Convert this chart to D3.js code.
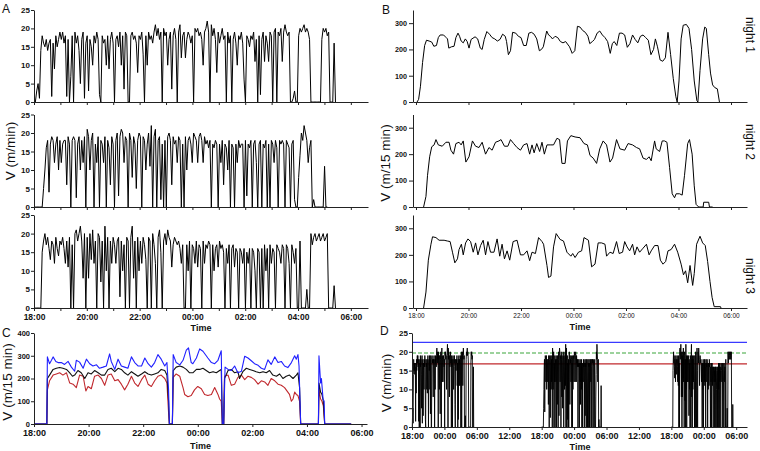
<!DOCTYPE html>
<html><head><meta charset="utf-8">
<script src="https://cdn.jsdelivr.net/npm/d3@7"></script>
<style>body{margin:0;background:#fff}svg{display:block}</style>
</head><body>
<svg id="c" width="760" height="451"></svg>
<script>
// ---------- DATA ----------
// Panel A / D : walking speed (m/min), one sample every 3.1 min from 18:00
const sampleMin = 3.1;
const night1A = [
0,0,3,5,1,14,18,16,15,17,14,16,17,1.5,16,9,18,15,17,19,
17,19,16,18,1.5,17,0,7,18,0,19,16,18,14,5,17,19,1,16,18,
3,17,15,10,18,16,19,17,2,0,18,16,17,10,18,9,17,19,16,0,
17,18,15,19,10,18,3.5,19,18,0,0,18,19,17,18,16,8,18,17,19,
13,0,18,10,19,17,18,16,19,21,18,20,17,19,0,20,18,19,10,17,
19,3.5,18,20,17,0,19,21,12,18,19,12,17,19,18,16,18,0,20,19,
20,18,19,17,10,19,20,22,19,0,21,18,20,17,8,19,16,18,20,17,
18,0,19,16,18,0,17,19,16,10,18,17,19,16,6,0,18,17,15,18,
17,19,11,17,0,18,2,17,19,11,18,16,11,19,18,0,19,20,0,19,
18,20,11,19,21,19,18,19,0,0,1,3,0,0,18,20,19,20,21,19,
20,19,17,0,0,0,0,0,0,0,0,17,20,19,20,18,19,0,0,0,
16,0];
const night2A = [
0,0,0,0,0,0,0,5,10,16,18,4,17,19,18,12,17,19,10,18,
12,17,18,18,6,19,17,0,18,19,18,2.5,17,19,10,18,12,19,0,21,
19,10,18,20,0,17,12,19,0,18,17,12,19,0,18,16,6,19,17,0,
18,20,3,19,21,20,12,19,18,0,20,18,8,19,17,5,18,20,19,0,
19,18,10,17,20,11,22,0,19,21,0,18,19,2,17,0,18,0,19,20,
18,6,19,17,18,12,19,18,0,17,0,19,10,18,19,17,12,20,19,18,
12,19,20,18,12,19,17,18,16,18,0,17,16,18,17,0,17,12,18,6,
17,16,10,18,0,17,16,0,17,12,18,16,17,17,0,18,3,17,16,18,
0,17,18,12,0,17,18,0,17,16,18,0,17,0,18,17,12,18,16,0,
18,17,18,17,0,18,17,16,0,17,18,2,0,0,8,14,20,18,22,20,
18,12,16,18,0,2,0,0,0,0,0,0,0,11,0,0];
const night3A = [
0,0,0,0,0,0,15,18,20,17,19,16,13,18,17,12,19,16,14,18,
17,19,16,12,18,11,19,0,17,0,20,21,18,20,22,18,8,20,0,19,
8,20,13,21,12,18,0,20,19,7,18,0,22,10,19,0,18,12,19,17,
12,18,19,3,18,10,17,0,19,18,0,19,22,8,18,0,19,10,18,12,
19,17,13,0,19,18,0,20,17,12,0,19,21,15,0,18,20,17,21,19,
18,11,17,19,18,17,18,16,12,17,0,0,17,10,18,0,17,16,12,18,
11,17,16,0,18,12,17,16,18,17,0,17,10,16,17,11,18,16,17,15,
0,16,12,17,0,16,17,11,16,15,0,16,15,12,16,0,15,12,16,0,
16,15,10,0,16,15,0,16,0,17,10,16,0,17,12,16,15,0,17,16,
15,12,17,16,0,17,16,12,0,17,15,12,16,0,0,18,0,0,0,0,
5,0,0,20,17,19,20,18,19,20,18,19,20,18,19,20,0,0,0,0,
6,0];

// Panel B : distance per 15 min, [hours after 18:00, m]
const night1B = [[0.04,0],[0.1,10],[0.17,60],[0.25,150],[0.33,215],[0.4,235],[0.5,232],[0.6,228],[0.68,212],[0.78,215],[0.85,245],[0.92,255],[1.05,255],[1.15,245],[1.2,240],[1.25,205],[1.35,210],[1.45,212],[1.52,245],[1.6,262],[1.66,250],[1.72,232],[1.8,225],[1.88,240],[1.95,230],[2.02,205],[2.1,238],[2.25,248],[2.35,240],[2.45,205],[2.52,200],[2.6,238],[2.7,268],[2.8,258],[2.9,245],[3.0,240],[3.1,232],[3.2,238],[3.3,258],[3.4,250],[3.45,230],[3.52,180],[3.6,195],[3.68,265],[3.8,262],[3.9,250],[4.0,245],[4.1,215],[4.2,215],[4.3,262],[4.4,265],[4.5,258],[4.6,240],[4.7,195],[4.78,200],[4.85,210],[4.98,270],[5.05,255],[5.12,250],[5.2,240],[5.3,250],[5.4,245],[5.5,230],[5.6,225],[5.7,230],[5.85,210],[5.95,185],[6.05,195],[6.15,288],[6.25,285],[6.35,272],[6.45,265],[6.55,250],[6.62,222],[6.72,230],[6.8,238],[6.9,262],[7.0,270],[7.1,255],[7.2,245],[7.3,230],[7.4,185],[7.48,222],[7.55,230],[7.65,215],[7.75,262],[7.85,262],[7.95,255],[8.05,208],[8.15,222],[8.25,255],[8.35,238],[8.45,225],[8.55,250],[8.65,255],[8.75,245],[8.85,235],[8.95,180],[9.05,200],[9.12,240],[9.2,210],[9.3,160],[9.4,155],[9.5,168],[9.6,265],[9.7,180],[9.8,90],[9.9,20],[9.95,0],[10.02,80],[10.1,240],[10.18,292],[10.3,295],[10.4,280],[10.5,200],[10.6,80],[10.7,5],[10.74,0],[10.82,120],[10.92,240],[11.0,285],[11.06,280],[11.15,180],[11.22,110],[11.3,65],[11.38,55],[11.48,50],[11.56,0]];
const night2B = [[0.29,0],[0.38,40],[0.44,120],[0.52,190],[0.6,228],[0.69,235],[0.76,255],[0.85,235],[1.0,230],[1.14,245],[1.26,245],[1.33,215],[1.43,200],[1.52,240],[1.64,245],[1.72,235],[1.8,250],[1.9,170],[2.02,190],[2.15,250],[2.27,230],[2.4,225],[2.52,245],[2.65,200],[2.78,225],[2.9,215],[3.03,245],[3.16,250],[3.24,255],[3.37,230],[3.5,230],[3.6,255],[3.72,240],[3.85,225],[3.98,215],[4.1,235],[4.23,240],[4.33,200],[4.42,235],[4.5,205],[4.6,240],[4.71,210],[4.8,245],[4.89,200],[4.99,235],[5.11,235],[5.24,235],[5.37,260],[5.47,255],[5.56,165],[5.68,165],[5.77,250],[5.9,270],[6.06,265],[6.25,262],[6.4,240],[6.53,235],[6.63,195],[6.75,185],[6.88,165],[7.0,220],[7.13,250],[7.26,235],[7.39,170],[7.49,185],[7.64,255],[7.77,220],[7.95,215],[8.08,240],[8.25,235],[8.4,225],[8.52,220],[8.65,185],[8.78,180],[8.88,190],[8.96,175],[9.09,250],[9.15,220],[9.28,210],[9.38,250],[9.47,250],[9.56,245],[9.66,150],[9.76,50],[9.85,35],[9.91,50],[10.04,50],[10.14,45],[10.23,120],[10.35,240],[10.42,255],[10.52,200],[10.6,80],[10.67,10],[10.77,0],[10.94,0],[10.96,18],[11.15,18],[11.18,0],[11.3,0]];
const night3B = [[0.29,0],[0.38,60],[0.47,180],[0.57,240],[0.63,268],[0.76,265],[0.88,255],[1.07,255],[1.2,252],[1.3,250],[1.39,210],[1.48,170],[1.58,185],[1.64,220],[1.73,240],[1.8,200],[1.89,245],[1.98,260],[2.08,250],[2.18,210],[2.27,245],[2.36,200],[2.46,235],[2.56,255],[2.65,200],[2.74,250],[2.84,210],[2.97,210],[3.09,260],[3.19,195],[3.28,240],[3.37,185],[3.47,215],[3.57,180],[3.7,250],[3.85,255],[3.98,200],[4.1,200],[4.23,215],[4.33,178],[4.42,210],[4.55,205],[4.67,265],[4.8,250],[4.86,240],[4.99,160],[5.05,115],[5.14,120],[5.24,230],[5.34,280],[5.49,258],[5.62,252],[5.75,210],[5.9,195],[5.97,205],[6.06,190],[6.19,210],[6.31,215],[6.4,265],[6.57,255],[6.69,155],[6.82,165],[6.94,245],[7.07,245],[7.2,240],[7.26,195],[7.39,210],[7.51,205],[7.64,250],[7.74,205],[7.87,210],[7.95,250],[8.04,230],[8.14,215],[8.25,240],[8.33,200],[8.42,230],[8.52,210],[8.65,225],[8.78,240],[8.88,200],[8.96,215],[9.09,235],[9.22,235],[9.31,180],[9.41,165],[9.51,175],[9.6,215],[9.72,220],[9.85,240],[9.97,210],[10.1,165],[10.19,125],[10.27,140],[10.35,95],[10.44,160],[10.54,85],[10.6,130],[10.69,240],[10.82,270],[10.92,245],[11.02,235],[11.11,175],[11.2,100],[11.28,40],[11.36,5],[11.6,5],[11.62,0]];

// Panel C : max / mean / min over nights, [hours after 18:00, m/15 min]
const cMax = [[0,0],[0.47,0],[0.49,295],[0.57,265],[0.64,280],[0.7,295],[0.8,275],[0.88,270],[1.0,270],[1.12,262],[1.25,275],[1.37,250],[1.49,232],[1.55,280],[1.67,272],[1.8,245],[1.92,285],[2.04,265],[2.16,255],[2.29,260],[2.4,245],[2.53,250],[2.65,255],[2.77,308],[2.83,275],[2.96,240],[3.08,285],[3.2,255],[3.32,250],[3.44,245],[3.57,295],[3.69,270],[3.81,255],[3.94,255],[4.06,290],[4.18,265],[4.3,250],[4.42,270],[4.54,305],[4.66,285],[4.79,255],[4.87,270],[4.93,150],[4.96,0],[5.07,0],[5.1,305],[5.21,270],[5.34,260],[5.46,280],[5.58,325],[5.66,335],[5.76,270],[5.82,265],[5.95,290],[6.07,330],[6.19,320],[6.31,300],[6.37,290],[6.5,270],[6.62,265],[6.74,280],[6.86,322],[6.9,0],[6.95,0],[7.0,250],[7.11,240],[7.23,235],[7.35,255],[7.47,225],[7.6,232],[7.72,298],[7.84,290],[7.96,278],[8.08,265],[8.21,258],[8.33,245],[8.45,240],[8.57,282],[8.69,262],[8.82,295],[8.94,270],[9.06,275],[9.18,255],[9.3,248],[9.43,270],[9.55,300],[9.61,285],[9.67,305],[9.71,255],[9.74,120],[9.77,0],[10.42,0],[10.44,300],[10.5,180],[10.53,200],[10.59,110],[10.63,100],[10.65,0],[11.62,0]];
const cMean = [[0,0],[0.47,0],[0.49,200],[0.57,215],[0.7,240],[0.82,245],[0.94,248],[1.06,245],[1.19,240],[1.31,225],[1.41,210],[1.49,215],[1.61,235],[1.73,225],[1.86,200],[1.98,225],[2.1,220],[2.22,235],[2.35,225],[2.47,215],[2.59,215],[2.71,240],[2.83,245],[2.96,230],[3.08,245],[3.2,240],[3.32,225],[3.44,215],[3.57,230],[3.69,220],[3.81,210],[3.94,220],[4.06,230],[4.18,220],[4.3,215],[4.42,220],[4.54,225],[4.66,240],[4.79,235],[4.87,215],[4.93,100],[4.96,0],[5.07,0],[5.1,235],[5.21,250],[5.34,255],[5.46,250],[5.58,240],[5.7,225],[5.82,225],[5.95,240],[6.07,240],[6.19,245],[6.31,235],[6.43,225],[6.56,230],[6.68,225],[6.8,235],[6.86,240],[6.9,0],[6.95,0],[6.98,200],[7.11,235],[7.23,240],[7.35,225],[7.47,230],[7.53,200],[7.65,230],[7.78,245],[7.9,240],[8.02,235],[8.14,230],[8.27,225],[8.39,230],[8.51,225],[8.63,235],[8.75,215],[8.88,210],[9.0,220],[9.12,200],[9.24,210],[9.36,215],[9.49,200],[9.61,215],[9.67,225],[9.73,160],[9.77,0],[10.42,0],[10.44,180],[10.5,140],[10.55,130],[10.6,100],[10.65,0],[11.62,0]];
const cMin = [[0,0],[0.47,0],[0.49,150],[0.57,190],[0.7,215],[0.82,220],[0.94,225],[1.06,215],[1.19,225],[1.31,180],[1.43,175],[1.55,160],[1.67,215],[1.8,210],[1.9,145],[1.98,165],[2.1,155],[2.22,210],[2.35,215],[2.47,200],[2.59,170],[2.71,215],[2.83,220],[2.96,190],[3.08,195],[3.2,175],[3.32,150],[3.44,175],[3.57,210],[3.69,180],[3.81,165],[3.94,195],[4.06,215],[4.18,175],[4.3,165],[4.42,190],[4.54,210],[4.66,215],[4.79,200],[4.87,180],[4.93,50],[4.96,0],[5.07,0],[5.1,205],[5.21,220],[5.34,210],[5.46,160],[5.52,130],[5.64,120],[5.76,125],[5.88,150],[6.0,165],[6.13,155],[6.25,130],[6.37,125],[6.5,130],[6.62,160],[6.74,130],[6.8,110],[6.86,100],[6.9,0],[6.95,0],[6.98,210],[7.11,215],[7.23,170],[7.35,175],[7.47,205],[7.6,215],[7.72,195],[7.84,210],[7.96,205],[8.08,195],[8.21,175],[8.33,190],[8.45,185],[8.57,170],[8.69,200],[8.82,190],[8.94,175],[9.06,170],[9.18,160],[9.3,140],[9.36,130],[9.43,100],[9.49,110],[9.55,140],[9.61,130],[9.67,125],[9.73,100],[9.77,0],[10.42,0],[10.44,150],[10.5,110],[10.55,100],[10.6,80],[10.65,0],[11.62,0]];

// Panel D reference levels (m/min)
const dLevelMax = 22.5, dLevelMid = 19.7, dLevelMin = 16.8;

// Tick labels
const timeLabels = ["18:00","20:00","22:00","00:00","02:00","04:00","06:00"];
const dayLabels = ["18:00","00:00","06:00","12:00","18:00","00:00","06:00","12:00","18:00","00:00","06:00"];
const nightNames = ["night 1","night 2","night 3"];

// ---------- DRAW ----------
const FONT = "Arial, 'Liberation Sans', Helvetica, sans-serif";
const svg = d3.select("#c");
const rows = [{top:10,bot:102},{top:114.5,bot:207},{top:215,bot:308}];
const nightsA = [night1A, night2A, night3A];
const nightsB = [night1B, night2B, night3B];

function styleAxis(g, fs, bold) {
  g.attr("font-family", FONT).attr("font-size", fs).attr("font-weight", bold ? "bold" : "normal");
  g.selectAll("path.domain").attr("stroke", "#222").attr("stroke-width", 1);
  g.selectAll(".tick line").attr("stroke", "#222").attr("stroke-width", 1);
  g.selectAll("text").attr("fill", "#111");
}
function label(x, y, txt, fs, opts={}) {
  const t = svg.append("text").attr("x", x).attr("y", y).text(txt)
    .attr("font-family", FONT).attr("font-size", fs).attr("fill", "#111")
    .attr("text-anchor", opts.anchor || "start")
    .attr("font-weight", opts.bold ? "bold" : "normal");
  if (opts.rot) t.attr("transform", `rotate(${opts.rot},${x},${y})`).attr("dy", "0.35em");
  return t;
}

// Panel A
const xA = d3.scaleLinear().domain([0, 12.65]).range([34, 368]);
rows.forEach((r, k) => {
  const y = d3.scaleLinear().domain([0, 25]).range([r.bot, r.top]);
  const line = d3.line().x((d, i) => xA(i * sampleMin / 60)).y(d => y(d));
  svg.append("path").datum(nightsA[k]).attr("d", line)
    .attr("fill", "none").attr("stroke", "#000").attr("stroke-width", 1).attr("stroke-linejoin", "round");
  const gy = svg.append("g").attr("transform", `translate(34,0)`)
    .call(d3.axisLeft(y).tickValues([0,5,10,15,20,25]).tickSize(3).tickPadding(1).tickSizeOuter(0));
  styleAxis(gy, 8, true);
  const gx = svg.append("g").attr("transform", `translate(0,${r.bot})`)
    .call(d3.axisBottom(xA).tickValues(d3.range(0, 13)).tickSize(3).tickPadding(3).tickSizeOuter(0)
      .tickFormat(h => (k === 2 && h % 2 === 0) ? timeLabels[h / 2] : ""));
  styleAxis(gx, 8.5, true);
});
label(201, 331, "Time", 9, {anchor: "middle", bold: true});
label(10, 151, "V (m/min)", 13.5, {anchor: "middle", rot: -90});
label(2, 13, "A", 12);

// Panel B
const xB = d3.scaleLinear().domain([-0.114, 12.61]).range([413, 747]);
const bNightY = [35, 142, 276];
rows.forEach((r, k) => {
  const y = d3.scaleLinear().domain([0, 350]).range([r.bot, r.top]);
  const line = d3.line().x(d => xB(d[0])).y(d => y(d[1]));
  svg.append("path").datum(nightsB[k]).attr("d", line)
    .attr("fill", "none").attr("stroke", "#000").attr("stroke-width", 1).attr("stroke-linejoin", "round");
  const gy = svg.append("g").attr("transform", `translate(413,0)`)
    .call(d3.axisLeft(y).tickValues([0,100,200,300]).tickSize(4).tickPadding(2).tickSizeOuter(0));
  styleAxis(gy, 7.2, true);
  const gx = svg.append("g").attr("transform", `translate(0,${r.bot})`)
    .call(d3.axisBottom(xB).tickValues(d3.range(0, 13, 2)).tickSize(3).tickPadding(2).tickSizeOuter(0)
      .tickFormat(h => k === 2 ? timeLabels[h / 2] : ""));
  styleAxis(gx, 6.5, false);
  label(750, bNightY[k], nightNames[k], 12, {anchor: "middle", rot: 90});
});
label(580, 329.5, "Time", 9, {anchor: "middle", bold: true});
label(385, 163, "V (m/15 min)", 13.5, {anchor: "middle", rot: -90});
label(382, 14, "B", 12);

// Panel C
const xC = d3.scaleLinear().domain([0, 12.2]).range([34, 367]);
const yC = d3.scaleLinear().domain([0, 400]).range([424, 333]);
const lineC = d3.line().x(d => xC(d[0])).y(d => yC(d[1]));
[[cMin, "#c0282d"], [cMean, "#111"], [cMax, "#1f1fff"]].forEach(([s, c]) => {
  svg.append("path").datum(s).attr("d", lineC).attr("fill", "none")
    .attr("stroke", c).attr("stroke-width", 1.1).attr("stroke-linejoin", "round");
});
{
  const gy = svg.append("g").attr("transform", `translate(34,0)`)
    .call(d3.axisLeft(yC).tickValues([0,100,200,300,400]).tickSize(3).tickPadding(1).tickSizeOuter(0));
  styleAxis(gy, 7.5, true);
  const gx = svg.append("g").attr("transform", `translate(0,424)`)
    .call(d3.axisBottom(xC).tickValues(d3.range(0, 13, 2)).tickSize(3).tickPadding(3).tickSizeOuter(0)
      .tickFormat(h => timeLabels[h / 2]));
  styleAxis(gx, 9, true);
}
label(200.5, 449, "Time", 9, {anchor: "middle", bold: true});
label(7, 382, "V (m/15 min)", 13.5, {anchor: "middle", rot: -90});
label(2, 337, "C", 12);

// Panel D
const xD = d3.scaleLinear().domain([0, 62]).range([412, 747]);
const yD = d3.scaleLinear().domain([0, 25]).range([427, 333]);
[[dLevelMax, "#3a3aff", null], [dLevelMid, "#3aa53a", "4,2"], [dLevelMin, "#c0282d", null]].forEach(([v, c, dash]) => {
  const l = svg.append("line").attr("x1", xD(0)).attr("x2", xD(62)).attr("y1", yD(v)).attr("y2", yD(v))
    .attr("stroke", c).attr("stroke-width", 1.1);
  if (dash) l.attr("stroke-dasharray", dash);
});
nightsA.forEach((s, k) => {
  const line = d3.line().x((d, i) => xD(k * 24 + i * sampleMin / 60)).y(d => yD(d));
  svg.append("path").datum(s).attr("d", line).attr("fill", "none")
    .attr("stroke", "#000").attr("stroke-width", 0.9);
});
{
  const gy = svg.append("g").attr("transform", `translate(412,0)`)
    .call(d3.axisLeft(yD).tickValues([0,5,10,15,20,25]).tickSize(3).tickPadding(1).tickSizeOuter(0));
  styleAxis(gy, 8, true);
  const gx = svg.append("g").attr("transform", `translate(0,427)`)
    .call(d3.axisBottom(xD).tickValues(d3.range(0, 61, 6)).tickSize(3).tickPadding(3).tickSizeOuter(0)
      .tickFormat(h => dayLabels[h / 6]));
  styleAxis(gx, 9, true);
}
label(580, 450, "Time", 9, {anchor: "middle", bold: true});
label(386, 383, "V (m/min)", 13.5, {anchor: "middle", rot: -90});
label(380, 335, "D", 12);
</script>
</body></html>
